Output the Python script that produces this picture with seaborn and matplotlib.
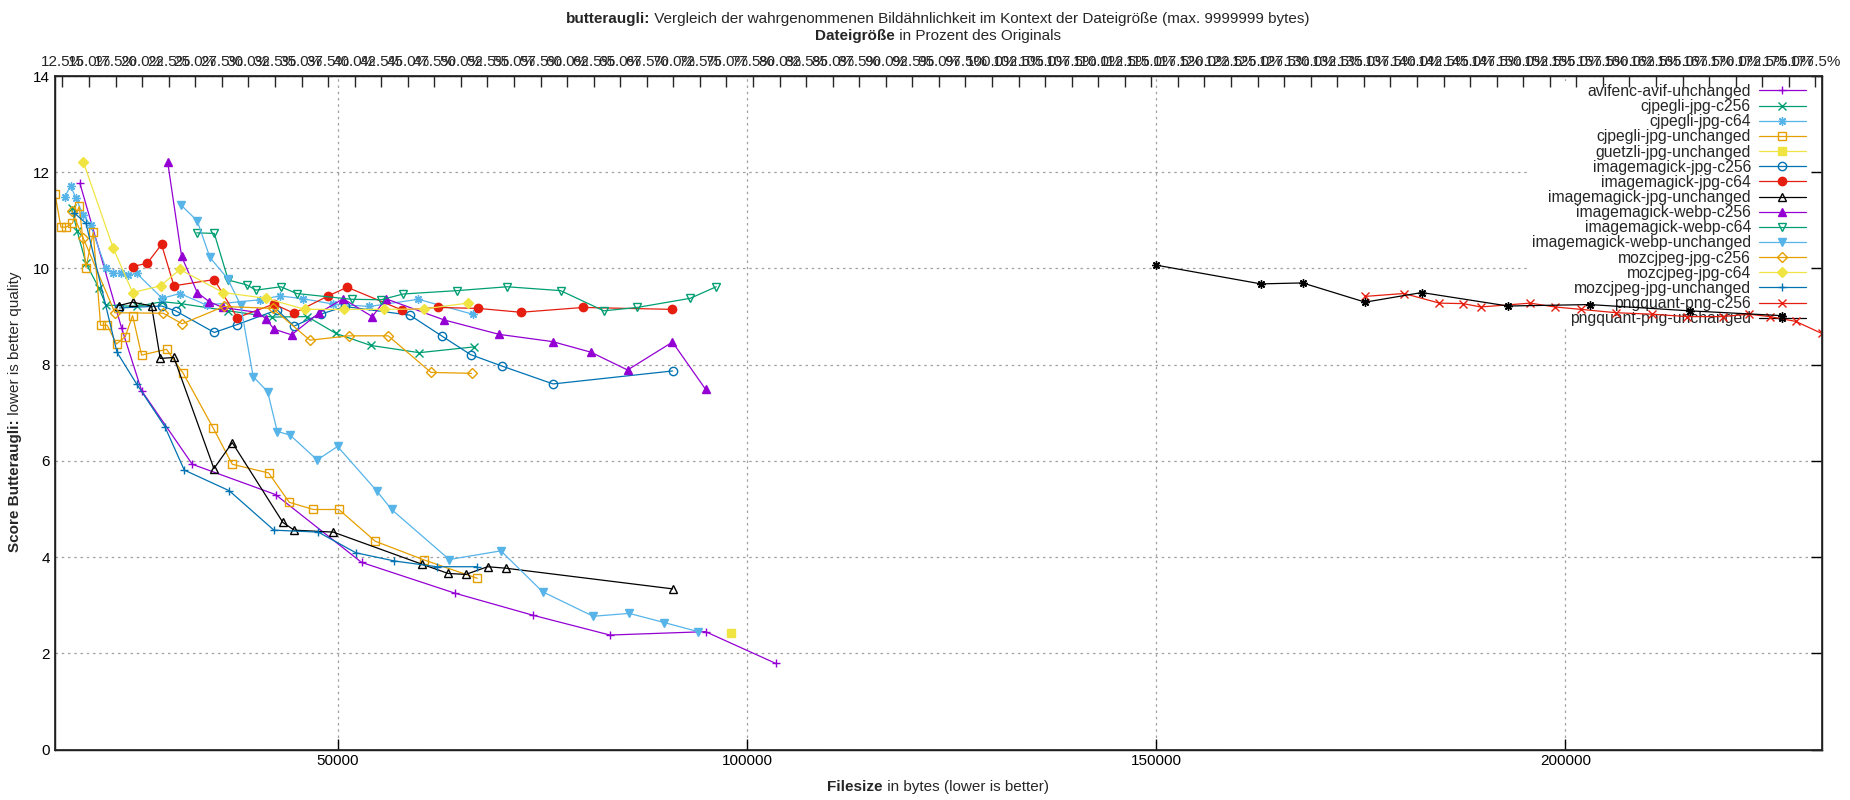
import numpy as np
import pandas as pd
import seaborn as sns
import matplotlib
matplotlib.use("Agg")
import matplotlib.pyplot as plt

# values (bytes, butteraugli score)
avif_x = [18470, 23570, 26010, 32200, 42380, 52890, 64300, 73870, 83240, 94930, 103520]
avif_y = [11.77, 8.76, 7.46, 5.93, 5.30, 3.89, 3.25, 2.79, 2.38, 2.45, 1.79]

cjpegli_c256_x = [17460, 18150, 19210, 20800, 21650, 25400, 28530, 30780, 36600, 42000, 46260, 49760, 54030, 59940, 66620]
cjpegli_c256_y = [11.25, 10.77, 10.11, 9.59, 9.24, 9.21, 9.31, 9.27, 9.12, 8.99, 9.00, 8.65, 8.40, 8.25, 8.37]

cjpegli_c64_x = [16640, 17330, 17990, 18880, 19780, 21650, 22470, 23440, 24380, 25400, 28530, 30690, 33950, 40470, 42910, 45770, 49430, 53830, 59820, 66460]
cjpegli_c64_y = [11.49, 11.72, 11.46, 11.11, 10.90, 10.00, 9.90, 9.90, 9.86, 9.90, 9.38, 9.48, 9.24, 9.35, 9.43, 9.37, 9.26, 9.21, 9.36, 9.05]

cjpegli_unch_x = [15420, 16150, 16800, 17540, 18390, 19210, 20100, 21000, 21810, 22950, 24010, 24910, 26010, 29060, 31100, 34770, 37090, 41530, 44050, 46990, 50120, 54560, 60550, 67030]
cjpegli_unch_y = [11.55, 10.86, 10.86, 10.94, 11.29, 10.02, 10.75, 8.82, 8.82, 8.43, 8.58, 9.02, 8.20, 8.32, 7.82, 6.68, 5.93, 5.75, 5.14, 4.99, 4.99, 4.33, 3.94, 3.56]

guetzli_x = [98060]
guetzli_y = [2.42]

im_jpg_c256_x = [23300, 28450, 30160, 34890, 37620, 42590, 44620, 47880, 50860, 58800, 62670, 66210, 70080, 76300, 90900]
im_jpg_c256_y = [9.18, 9.22, 9.12, 8.67, 8.83, 9.14, 8.80, 9.05, 9.21, 9.03, 8.60, 8.21, 7.97, 7.60, 7.87]

im_jpg_c64_x = [24910, 26700, 28450, 29960, 34890, 37700, 42180, 44620, 48820, 51140, 57780, 62260, 67150, 72360, 79980, 90890]
im_jpg_c64_y = [10.04, 10.11, 10.50, 9.64, 9.77, 8.98, 9.26, 9.07, 9.43, 9.61, 9.14, 9.19, 9.17, 9.09, 9.19, 9.15]

im_jpg_unch_x = [23280, 24910, 27230, 28290, 29960, 34850, 37090, 43280, 44660, 49430, 60310, 63480, 65640, 68290, 70490, 90900]
im_jpg_unch_y = [9.23, 9.30, 9.22, 8.13, 8.15, 5.84, 6.38, 4.72, 4.56, 4.52, 3.85, 3.66, 3.64, 3.80, 3.77, 3.34]

im_webp_c256_x = [29190, 30900, 32810, 34280, 35910, 40060, 41200, 42180, 44340, 47720, 50650, 54200, 55870, 62990, 69720, 76230, 80920, 85400, 90890, 94930]
im_webp_c256_y = [12.22, 10.25, 9.50, 9.31, 9.19, 9.09, 8.96, 8.74, 8.62, 9.08, 9.37, 9.00, 9.37, 8.93, 8.63, 8.48, 8.26, 7.89, 8.47, 7.49]

im_webp_c64_x = [32730, 34890, 36600, 38840, 39980, 43030, 44950, 51670, 55260, 57990, 64580, 70690, 77210, 82500, 86580, 93060, 96230]
im_webp_c64_y = [10.74, 10.73, 9.76, 9.66, 9.55, 9.62, 9.48, 9.36, 9.35, 9.47, 9.54, 9.62, 9.54, 9.12, 9.19, 9.38, 9.62]

im_webp_unch_x = [30820, 32810, 34360, 36520, 38110, 39650, 41410, 42590, 44140, 47470, 49960, 54730, 56560, 63610, 69920, 75010, 81200, 85600, 89880, 94030]
im_webp_unch_y = [11.32, 10.99, 10.23, 9.79, 9.24, 7.75, 7.44, 6.61, 6.54, 6.02, 6.30, 5.38, 4.99, 3.95, 4.13, 3.28, 2.77, 2.83, 2.64, 2.45]

moz_c256_x = [17460, 18880, 22750, 28660, 30980, 36070, 42020, 46580, 51390, 56150, 61370, 66340]
moz_c256_y = [11.20, 10.63, 9.08, 9.07, 8.85, 9.21, 9.17, 8.51, 8.60, 8.60, 7.84, 7.82]

moz_c64_x = [18880, 22550, 24910, 28330, 30690, 35990, 41200, 45970, 50780, 55660, 60550, 65850]
moz_c64_y = [12.22, 10.42, 9.50, 9.64, 9.98, 9.50, 9.38, 9.15, 9.15, 9.15, 9.16, 9.28]

moz_unch_x = [17740, 19210, 23000, 25400, 28860, 31220, 36720, 42180, 47600, 52200, 56890, 62060, 67030]
moz_unch_y = [11.16, 10.94, 8.26, 7.60, 6.71, 5.81, 5.38, 4.56, 4.52, 4.09, 3.92, 3.80, 3.80]

png_c256_x = [175540, 180300, 184620, 187500, 189670, 195720, 198750, 201920, 206250, 210580, 214900, 219230, 222400, 224990, 228170, 231340]
png_c256_y = [9.42, 9.48, 9.28, 9.27, 9.20, 9.28, 9.20, 9.15, 9.08, 9.05, 9.00, 9.00, 9.05, 9.00, 8.90, 8.65]

png_unch_x = [150000, 162800, 167900, 175540, 182460, 193000, 203000, 215200, 226450]
png_unch_y = [10.07, 9.68, 9.70, 9.30, 9.50, 9.22, 9.25, 9.12, 9.02]

pct_ticks = np.arange(12.5, 177.6, 2.5)

series = [
    ("avifenc-avif-unchanged", avif_x, avif_y),
    ("cjpegli-jpg-c256", cjpegli_c256_x, cjpegli_c256_y),
    ("cjpegli-jpg-c64", cjpegli_c64_x, cjpegli_c64_y),
    ("cjpegli-jpg-unchanged", cjpegli_unch_x, cjpegli_unch_y),
    ("guetzli-jpg-unchanged", guetzli_x, guetzli_y),
    ("imagemagick-jpg-c256", im_jpg_c256_x, im_jpg_c256_y),
    ("imagemagick-jpg-c64", im_jpg_c64_x, im_jpg_c64_y),
    ("imagemagick-jpg-unchanged", im_jpg_unch_x, im_jpg_unch_y),
    ("imagemagick-webp-c256", im_webp_c256_x, im_webp_c256_y),
    ("imagemagick-webp-c64", im_webp_c64_x, im_webp_c64_y),
    ("imagemagick-webp-unchanged", im_webp_unch_x, im_webp_unch_y),
    ("mozcjpeg-jpg-c256", moz_c256_x, moz_c256_y),
    ("mozcjpeg-jpg-c64", moz_c64_x, moz_c64_y),
    ("mozcjpeg-jpg-unchanged", moz_unch_x, moz_unch_y),
    ("pngquant-png-c256", png_c256_x, png_c256_y),
    ("pngquant-png-unchanged", png_unch_x, png_unch_y),
]

# gnuplot default colour / point type cycles
colors = ["#9400D3", "#009E73", "#56B4E9", "#E69F00", "#F0E442", "#0072B2", "#E51E10", "#000000"]
points = [("+", False), ("x", False), ((8, 2, 0), False), ("s", False), ("s", True),
          ("o", False), ("o", True), ("^", False), ("^", True), ("v", False),
          ("v", True), ("D", False), ("D", True)]

sns.set_theme(style="white")
plt.rcParams["font.family"] = ["Liberation Sans", "DejaVu Sans"]

fig = plt.figure(figsize=(18.5, 8), dpi=100)
ax = fig.add_axes([0.0297, 0.0631, 0.9550, 0.8418])

for i, (name, xs, ys) in enumerate(series):
    col = colors[i % len(colors)]
    mk, filled = points[i % len(points)]
    df = pd.DataFrame({"x": xs, "y": ys})
    sns.lineplot(data=df, x="x", y="y", ax=ax, sort=False, estimator=None,
                 color=col, linewidth=0.9, marker=mk, markersize=6 if mk != "D" else 5,
                 markerfacecolor=col if filled else "none", markeredgecolor=col,
                 markeredgewidth=1.0, label=name)

all_x = [v for _, xs, _ in series for v in xs]
ax.set_xlim(min(all_x), max(all_x))
ax.set_ylim(0, 14)
ax.set_yticks(range(0, 15, 2))
ax.set_xticks([50000, 100000, 150000, 200000])
ax.set_axisbelow(True)
ax.grid(True, color="#a0a0a0", linestyle=(0, (2, 3)), linewidth=0.9)
ax.tick_params(direction="in", length=8, width=1, labelsize=11, top=True, right=True,
               colors="black")
for s in ax.spines.values():
    s.set_color("black")
    s.set_linewidth(1)
ax.set_xlabel("")
ax.set_ylabel("")

leg = ax.legend(loc="upper right", bbox_to_anchor=(0.9955, 1.0), markerfirst=False,
                fontsize=11.3, frameon=True, facecolor="white", edgecolor="none",
                framealpha=1, fancybox=False, labelspacing=0.01, handlelength=3.0,
                handletextpad=0.5, borderaxespad=0.3, borderpad=0.2)
leg.set_zorder(1.5)

ax2 = ax.twiny()
ax2.set_xlim(11.79, 178.1)
ax2.set_xticks(pct_ticks)
ax2.set_xticklabels([f"{v:.1f}%" for v in pct_ticks])
ax2.tick_params(direction="in", length=8, width=1, labelsize=11, pad=5)
ax2.grid(False)


# bold lead-in followed by normal text, centred at (x, y) in figure fractions
def mixed_text(x, y, bold, normal, rotation=0, size=11):
    r = fig.canvas.get_renderer()
    W, H = fig.bbox.width, fig.bbox.height
    t1 = fig.text(0, 0, bold, fontsize=size, fontweight="bold", rotation=rotation,
                  ha="left", va="baseline", rotation_mode="anchor")
    t2 = fig.text(0, 0, " " + normal, fontsize=size, rotation=rotation,
                  ha="left", va="baseline", rotation_mode="anchor")
    if rotation == 0:
        w1 = t1.get_window_extent(r).width
        w2 = t2.get_window_extent(r).width
        x0 = x * W - (w1 + w2) / 2
        t1.set_position((x0 / W, y))
        t2.set_position(((x0 + w1) / W, y))
    else:
        h1 = t1.get_window_extent(r).height
        h2 = t2.get_window_extent(r).height
        y0 = y * H - (h1 + h2) / 2
        t1.set_position((x, y0 / H))
        t2.set_position((x, (y0 + h1) / H))


fig.canvas.draw()
mixed_text(0.507, 0.971, "butteraugli:",
           "Vergleich der wahrgenommenen Bildähnlichkeit im Kontext der Dateigröße (max. 9999999 bytes)")
mixed_text(0.507, 0.950, "Dateigröße", "in Prozent des Originals")
mixed_text(0.507, 0.011, "Filesize", "in bytes (lower is better)")
mixed_text(0.0105, 0.485, "Score Butteraugli:", "lower is better quality", rotation=90)

fig.savefig("out.png", dpi=100)
